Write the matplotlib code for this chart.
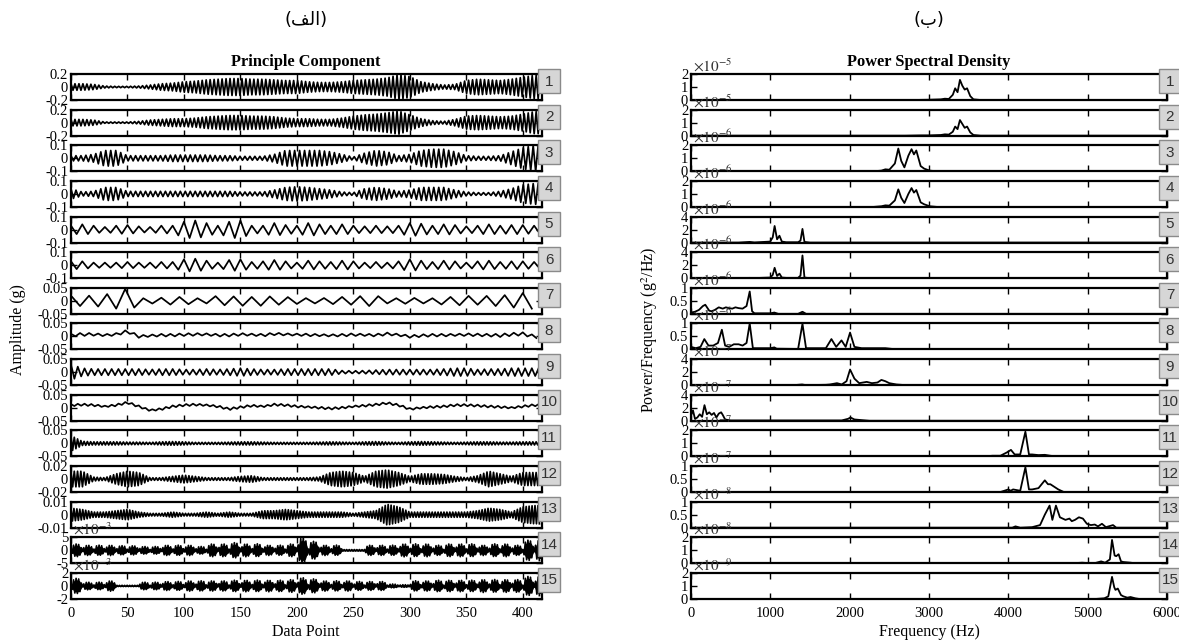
import numpy as np
import matplotlib
matplotlib.use("Agg")
import matplotlib.pyplot as plt
from matplotlib.patches import Rectangle

plt.rcParams['font.family'] = ['Liberation Serif', 'DejaVu Serif']
plt.rcParams['mathtext.fontset'] = 'stix'

# ---------------- data ----------------
n_points = 415
env_step_x = list(range(0, 420, 10))          # envelope sample positions 0..410

pc_lim = [0.2, 0.2, 0.1, 0.1, 0.1, 0.1, 0.05, 0.05, 0.05, 0.05, 0.05, 0.02, 0.01, 5, 2]
pc_ticklabels = [["-0.2", "0", "0.2"], ["-0.2", "0", "0.2"], ["-0.1", "0", "0.1"], ["-0.1", "0", "0.1"],
                 ["-0.1", "0", "0.1"], ["-0.1", "0", "0.1"], ["-0.05", "0", "0.05"], ["-0.05", "0", "0.05"],
                 ["-0.05", "0", "0.05"], ["-0.05", "0", "0.05"], ["-0.05", "0", "0.05"], ["-0.02", "0", "0.02"],
                 ["-0.01", "0", "0.01"], ["-5", "0", "5"], ["-2", "0", "2"]]
pc_exponent = [None] * 13 + [-3, -3]
# half period (data points) of the dominant oscillation of each component
pc_half_period = [1.76, 1.76, 2.2, 2.2, 5.0, 5.0, 8.0, 4.0, 3.0, 3.0, 1.45, 1.45, 1.3, 1.13, 1.13]

pc1_env = [0.05, 0.05, 0.04, 0.015, 0.01, 0.01, 0.015, 0.03, 0.05, 0.06, 0.08, 0.09, 0.11, 0.12, 0.13, 0.13, 0.12,
           0.12, 0.11, 0.10, 0.10, 0.08, 0.07, 0.07, 0.08, 0.10, 0.11, 0.12, 0.14, 0.19, 0.16, 0.08, 0.05, 0.03, 0.04,
           0.10, 0.12, 0.11, 0.10, 0.12, 0.15, 0.18]
pc2_env = [0.05, 0.05, 0.04, 0.01, 0.01, 0.01, 0.02, 0.04, 0.05, 0.06, 0.06, 0.07, 0.09, 0.10, 0.11, 0.11, 0.10,
           0.10, 0.09, 0.07, 0.06, 0.06, 0.05, 0.05, 0.07, 0.10, 0.12, 0.13, 0.15, 0.18, 0.12, 0.06, 0.03, 0.02, 0.05,
           0.10, 0.11, 0.10, 0.09, 0.10, 0.13, 0.17]
pc3_env = [0.02, 0.02, 0.03, 0.06, 0.06, 0.02, 0.02, 0.02, 0.02, 0.025, 0.025, 0.025, 0.025, 0.02, 0.02, 0.015,
           0.015, 0.015, 0.03, 0.06, 0.06, 0.06, 0.06, 0.05, 0.03, 0.01, 0.04, 0.06, 0.05, 0.02, 0.03, 0.06, 0.07,
           0.07, 0.05, 0.02, 0.015, 0.015, 0.02, 0.05, 0.08, 0.10]
pc4_env = [0.04, 0.015, 0.02, 0.05, 0.05, 0.02, 0.02, 0.02, 0.02, 0.02, 0.02, 0.02, 0.02, 0.02, 0.02, 0.015, 0.015,
           0.015, 0.03, 0.05, 0.055, 0.05, 0.04, 0.03, 0.015, 0.01, 0.04, 0.05, 0.04, 0.02, 0.03, 0.05, 0.05, 0.05,
           0.03, 0.015, 0.01, 0.01, 0.02, 0.04, 0.07, 0.08]
pc5_env = [0.03, 0.04, 0.03, 0.02, 0.03, 0.035, 0.025, 0.02, 0.03, 0.03, 0.06, 0.07, 0.05, 0.03, 0.06, 0.07, 0.03,
           0.03, 0.05, 0.035, 0.03, 0.05, 0.04, 0.03, 0.04, 0.03, 0.025, 0.03, 0.025, 0.03, 0.05, 0.045, 0.03, 0.04,
           0.035, 0.025, 0.03, 0.04, 0.03, 0.035, 0.035, 0.03]
pc6_env = [0.03, 0.03, 0.02, 0.02, 0.02, 0.025, 0.02, 0.02, 0.025, 0.025, 0.045, 0.05, 0.035, 0.02, 0.04, 0.045,
           0.025, 0.03, 0.04, 0.03, 0.02, 0.035, 0.03, 0.025, 0.035, 0.03, 0.02, 0.025, 0.02, 0.03, 0.045, 0.035,
           0.025, 0.035, 0.03, 0.02, 0.03, 0.035, 0.025, 0.03, 0.03, 0.025]
pc7_env = [0.02, 0.02, 0.02, 0.025, 0.03, 0.05, 0.01, 0.01, 0.012, 0.015, 0.015, 0.01, 0.01, 0.02, 0.015, 0.02,
           0.015, 0.02, 0.015, 0.015, 0.012, 0.01, 0.01, 0.012, 0.015, 0.015, 0.02, 0.02, 0.01, 0.01, 0.012, 0.01,
           0.01, 0.015, 0.015, 0.02, 0.015, 0.02, 0.02, 0.025, 0.03, 0.03]
pc8_base = [0.005, 0.008, 0.008, 0.005, 0.008, 0.02, 0.0, 0.003, 0.005, 0.005, 0.007, 0.008, 0.008, 0.005, 0.005,
            0.008, 0.007, 0.005, 0.01, 0.008, 0.007, 0.006, 0.005, 0.004, 0.005, 0.007, 0.006, 0.005, 0.01, 0.006,
            0.0, 0.003, 0.005, 0.005, 0.006, 0.007, 0.006, 0.005, 0.004, 0.008, 0.01, 0.0]
pc8_env = [0.005, 0.006, 0.005, 0.004, 0.005, 0.006, 0.005, 0.004, 0.005, 0.005, 0.005, 0.005, 0.004, 0.005, 0.005,
           0.005, 0.004, 0.005, 0.005, 0.004, 0.004, 0.005, 0.004, 0.004, 0.005, 0.005, 0.004, 0.005, 0.005, 0.004,
           0.005, 0.005, 0.005, 0.005, 0.004, 0.005, 0.005, 0.005, 0.006, 0.006, 0.006, 0.006]
pc9_env = [0.03, 0.015, 0.012, 0.012, 0.012, 0.012, 0.012, 0.01, 0.012, 0.012, 0.01, 0.01, 0.012, 0.01, 0.012,
           0.015, 0.012, 0.01, 0.01, 0.012, 0.012, 0.012, 0.012, 0.012, 0.006, 0.005, 0.006, 0.008, 0.01, 0.01,
           0.01, 0.01, 0.01, 0.012, 0.015, 0.015, 0.01, 0.012, 0.012, 0.015, 0.015, 0.015]
pc10_base = [0.01, 0.012, 0.01, 0.005, 0.01, 0.02, 0.005, -0.01, -0.005, 0.005, 0.01, 0.012, 0.01, 0.005, -0.005,
             0.002, 0.008, 0.005, 0.012, 0.01, 0.005, 0.003, 0.0, -0.003, 0.0, 0.005, 0.008, 0.012, 0.018, 0.01,
             -0.005, 0.0, 0.003, 0.005, 0.01, 0.01, 0.008, 0.005, 0.003, 0.0, 0.005, 0.01]
pc10_env = [0.004, 0.004, 0.004, 0.003, 0.004, 0.004, 0.004, 0.003, 0.004, 0.004, 0.004, 0.004, 0.003, 0.004,
            0.004, 0.004, 0.004, 0.003, 0.004, 0.004, 0.004, 0.003, 0.004, 0.004, 0.004, 0.003, 0.004, 0.004, 0.004,
            0.004, 0.004, 0.003, 0.004, 0.004, 0.004, 0.004, 0.004, 0.004, 0.004, 0.003, 0.004, 0.004]
pc11_env = [0.03, 0.008, 0.006, 0.006, 0.006, 0.005, 0.005, 0.004, 0.006, 0.007, 0.006, 0.004, 0.004, 0.004,
            0.005, 0.006, 0.006, 0.005, 0.004, 0.004, 0.004, 0.004, 0.005, 0.006, 0.005, 0.004, 0.006, 0.007, 0.005,
            0.004, 0.006, 0.007, 0.006, 0.005, 0.004, 0.005, 0.006, 0.006, 0.005, 0.005, 0.006, 0.006]
pc12_env = [0.012, 0.012, 0.003, 0.002, 0.008, 0.012, 0.01, 0.002, 0.002, 0.004, 0.006, 0.004, 0.002, 0.002,
            0.002, 0.004, 0.005, 0.002, 0.002, 0.002, 0.002, 0.002, 0.003, 0.01, 0.012, 0.01, 0.004, 0.012, 0.014,
            0.01, 0.004, 0.008, 0.008, 0.007, 0.004, 0.002, 0.005, 0.012, 0.008, 0.004, 0.01, 0.01]
pc13_env = [0.005, 0.004, 0.002, 0.002, 0.003, 0.004, 0.002, 0.001, 0.001, 0.002, 0.001, 0.001, 0.002, 0.001,
            0.002, 0.001, 0.001, 0.003, 0.003, 0.004, 0.003, 0.002, 0.002, 0.002, 0.002, 0.001, 0.002, 0.003, 0.008,
            0.006, 0.002, 0.002, 0.002, 0.002, 0.002, 0.002, 0.003, 0.005, 0.004, 0.002, 0.006, 0.007]
# components 14 and 15 (x 1e-3): bead amplitudes at 5, 15, ..., 415 and the level between beads
pc14_beads = [2.5, 2.0, 2.0, 2.0, 1.8, 1.8, 1.5, 1.5, 2.0, 2.0, 2.0, 1.5, 2.5, 2.5, 3.0, 2.5, 2.5, 2.0, 2.0, 2.5,
              5.0, 3.5, 2.0, 2.0, 0.3, 0.3, 2.0, 2.0, 2.0, 2.5, 2.5, 2.5, 2.0, 2.5, 2.5, 2.5, 2.0, 2.5, 2.5, 2.0,
              4.0, 4.0]
pc14_gap = 0.3
pc15_beads = [1.2, 0.6, 0.6, 0.8, 0.1, 0.1, 0.6, 0.6, 0.7, 0.7, 0.8, 0.8, 0.8, 0.8, 0.9, 0.9, 0.9, 0.9, 0.9, 1.0,
              1.3, 1.1, 0.8, 0.8, 0.8, 0.7, 0.7, 0.7, 0.3, 0.2, 0.8, 0.8, 0.9, 0.9, 0.9, 0.9, 1.0, 1.0, 1.0, 1.0,
              1.5, 1.5]
pc15_gap = 0.1
bead_shoulder = 0.85   # relative bead height 2.5 points either side of a bead centre

# ---------------- PSD data (in units of 10^exp) ----------------
psd_top = [2, 2, 2, 2, 4, 4, 1, 1, 4, 4, 2, 1, 1, 2, 2]
psd_ticklabels = [["0", "1", "2"], ["0", "1", "2"], ["0", "1", "2"], ["0", "1", "2"], ["0", "2", "4"],
                  ["0", "2", "4"], ["0", "0.5", "1"], ["0", "0.5", "1"], ["0", "2", "4"], ["0", "2", "4"],
                  ["0", "1", "2"], ["0", "0.5", "1"], ["0", "0.5", "1"], ["0", "1", "2"], ["0", "1", "2"]]
psd_exponent = [-5, -5, -6, -6, -6, -6, -6, -6, -7, -7, -7, -7, -8, -8, -9]

psd1_f = [0, 2800, 3000, 3150, 3200, 3250, 3300, 3330, 3360, 3390, 3420, 3450, 3480, 3520, 3560, 3650, 6000]
psd1_v = [0, 0, 0.02, 0.05, 0.1, 0.08, 0.4, 0.9, 0.6, 1.55, 1.1, 0.8, 0.9, 0.3, 0.05, 0, 0]
psd2_f = [0, 2700, 2900, 3000, 3150, 3200, 3250, 3300, 3330, 3360, 3390, 3420, 3450, 3480, 3520, 3560, 3650, 6000]
psd2_v = [0, 0, 0.02, 0.02, 0.05, 0.1, 0.08, 0.3, 0.7, 0.5, 1.2, 0.9, 0.6, 0.7, 0.25, 0.05, 0, 0]
psd3_f = [0, 2300, 2400, 2450, 2500, 2570, 2613, 2650, 2690, 2740, 2780, 2810, 2840, 2895, 2940, 3010, 3100, 6000]
psd3_v = [0, 0, 0.05, 0.15, 0.12, 0.6, 1.75, 0.8, 0.3, 1.2, 1.7, 1.3, 1.6, 0.4, 0.2, 0.05, 0, 0]
psd4_f = [0, 2300, 2400, 2450, 2500, 2570, 2613, 2650, 2690, 2740, 2780, 2810, 2840, 2895, 2940, 3010, 3100, 6000]
psd4_v = [0, 0, 0.05, 0.12, 0.1, 0.5, 1.35, 0.7, 0.3, 1.0, 1.45, 1.1, 1.3, 0.35, 0.2, 0.05, 0, 0]
psd5_f = [0, 600, 740, 800, 998, 1030, 1054, 1085, 1115, 1145, 1200, 1350, 1380, 1405, 1430, 1500, 6000]
psd5_v = [0, 0, 0.1, 0.02, 0.15, 0.8, 2.55, 0.5, 1.05, 0.15, 0.05, 0.05, 0.3, 2.1, 0.1, 0, 0]
psd6_f = [0, 600, 740, 800, 998, 1030, 1054, 1085, 1115, 1145, 1200, 1350, 1380, 1405, 1430, 1500, 6000]
psd6_v = [0, 0, 0.05, 0.02, 0.1, 0.5, 1.6, 0.35, 0.7, 0.1, 0.05, 0.05, 0.4, 3.5, 0.1, 0, 0]
psd7_f = [0, 50, 100, 150, 180, 230, 260, 300, 350, 400, 440, 480, 520, 560, 600, 650, 700, 740, 770, 800, 1000,
          1050, 1100, 1350, 1405, 1450, 6000]
psd7_v = [0.05, 0.08, 0.15, 0.3, 0.35, 0.12, 0.1, 0.15, 0.25, 0.2, 0.25, 0.22, 0.2, 0.25, 0.22, 0.2, 0.3, 0.86,
          0.1, 0.02, 0.02, 0.05, 0.0, 0.0, 0.08, 0.0, 0]
psd8_f = [0, 60, 120, 168, 220, 280, 340, 389, 430, 480, 540, 600, 650, 700, 740, 780, 1000, 1050, 1080, 1350,
          1405, 1450, 1600, 1700, 1770, 1830, 1897, 1950, 2005, 2060, 2150, 2300, 2450, 2600, 6000]
psd8_v = [0.1, 0.05, 0.1, 0.4, 0.15, 0.15, 0.25, 0.76, 0.15, 0.1, 0.2, 0.2, 0.15, 0.25, 1.0, 0.05, 0.05, 0.08, 0.03,
          0.02, 0.99, 0.05, 0.05, 0.05, 0.4, 0.1, 0.35, 0.1, 0.65, 0.1, 0.05, 0.05, 0.05, 0.0, 0]
psd9_f = [0, 1300, 1400, 1450, 1700, 1750, 1840, 1900, 1960, 2005, 2060, 2120, 2215, 2280, 2350, 2400, 2450, 2500,
          2590, 2700, 6000]
psd9_v = [0, 0, 0.1, 0, 0.05, 0.1, 0.3, 0.1, 0.6, 2.4, 1.0, 0.3, 0.5, 0.3, 0.4, 0.8, 0.6, 0.3, 0.1, 0, 0]
psd10_f = [0, 25, 50, 80, 110, 140, 170, 200, 230, 260, 290, 320, 350, 380, 400, 430, 500, 1900, 1980, 2010,
           2060, 2150, 2250, 6000]
psd10_v = [0.8, 1.6, 0.3, 0.5, 1.0, 0.6, 2.4, 1.0, 1.3, 0.9, 1.2, 0.5, 1.1, 1.3, 0.9, 0.2, 0.05, 0.05, 0.3, 0.5,
           0.2, 0.1, 0, 0]
psd11_f = [0, 3700, 3800, 3900, 3980, 4033, 4080, 4150, 4215, 4260, 4300, 4380, 4460, 4530, 4600, 6000]
psd11_v = [0, 0, 0.05, 0.05, 0.3, 0.5, 0.15, 0.15, 1.9, 0.15, 0.15, 0.1, 0.12, 0.05, 0, 0]
psd12_f = [0, 3900, 4000, 4030, 4060, 4150, 4215, 4260, 4300, 4380, 4460, 4500, 4530, 4580, 4630, 4700, 6000]
psd12_v = [0, 0, 0.1, 0.05, 0.1, 0.05, 0.95, 0.1, 0.1, 0.15, 0.45, 0.3, 0.3, 0.2, 0.1, 0, 0]
psd13_f = [0, 4050, 4090, 4150, 4300, 4400, 4460, 4520, 4555, 4600, 4650, 4720, 4770, 4800, 4840, 4890, 4940,
           4990, 5040, 5090, 5130, 5180, 5230, 5320, 5360, 6000]
psd13_v = [0, 0, 0.05, 0.0, 0.02, 0.1, 0.5, 0.85, 0.3, 0.85, 0.4, 0.3, 0.35, 0.25, 0.3, 0.4, 0.35, 0.15, 0.1, 0.12,
           0.05, 0.15, 0.02, 0.1, 0, 0]
psd14_f = [0, 4800, 4930, 5000, 5100, 5170, 5220, 5280, 5307, 5340, 5360, 5390, 5420, 5450, 5540, 5600, 6000]
psd14_v = [0, 0, 0.05, 0.02, 0.03, 0.15, 0.05, 0.3, 1.8, 0.6, 0.55, 0.7, 0.15, 0.1, 0.05, 0, 0]
psd15_f = [0, 5100, 5210, 5260, 5307, 5335, 5350, 5380, 5420, 5450, 5500, 5540, 5600, 5650, 6000]
psd15_v = [0, 0, 0.05, 0.2, 1.7, 0.9, 0.7, 0.8, 0.3, 0.2, 0.1, 0.15, 0.05, 0, 0]

pc_x_ticks = [0, 50, 100, 150, 200, 250, 300, 350, 400]
psd_x_ticks = [0, 1000, 2000, 3000, 4000, 5000, 6000]

# ---------------- build the component traces ----------------
def zigzag(env_x, env, half_period, base=None):
    """Trace swinging between +env and -env (around base) at the read half period."""
    xs = np.arange(0, n_points + 0.5, half_period)
    amp = np.interp(xs, env_x, env)
    sign = np.where(np.arange(len(xs)) % 2 == 0, 1.0, -1.0)
    ys = sign * amp
    if base is not None:
        ys = ys + np.interp(xs, env_x, base)
    return xs, ys


def bead_env(beads, gap):
    # positions every 2.5 points: gap, shoulder, bead, shoulder, gap, ...
    ex = np.arange(0, 420, 2.5)
    ev = np.full(len(ex), gap)
    b = np.asarray(beads, dtype=float)
    ev[2::4] = b[:len(ev[2::4])]
    ev[1::4] = bead_shoulder * b[:len(ev[1::4])]
    ev[3::4] = bead_shoulder * b[:len(ev[3::4])]
    return ex, ev


pc_env = [pc1_env, pc2_env, pc3_env, pc4_env, pc5_env, pc6_env, pc7_env, pc8_env, pc9_env, pc10_env,
          pc11_env, pc12_env, pc13_env]
pc_base = [None] * 7 + [pc8_base, None, pc10_base] + [None] * 3
traces = []
for k in range(13):
    traces.append(zigzag(env_step_x, pc_env[k], pc_half_period[k], pc_base[k]))
ex14, ev14 = bead_env(pc14_beads, pc14_gap)
traces.append(zigzag(ex14, ev14, pc_half_period[13]))
ex15, ev15 = bead_env(pc15_beads, pc15_gap)
traces.append(zigzag(ex15, ev15, pc_half_period[14]))
bead_envs = {13: (ex14, ev14), 14: (ex15, ev15)}

psd_f = [psd1_f, psd2_f, psd3_f, psd4_f, psd5_f, psd6_f, psd7_f, psd8_f, psd9_f, psd10_f, psd11_f, psd12_f,
         psd13_f, psd14_f, psd15_f]
psd_v = [psd1_v, psd2_v, psd3_v, psd4_v, psd5_v, psd6_v, psd7_v, psd8_v, psd9_v, psd10_v, psd11_v, psd12_v,
         psd13_v, psd14_v, psd15_v]

# ---------------- figure ----------------
W, H = 1179, 641
fig = plt.figure(figsize=(W / 100, H / 100), dpi=100)

ROW_TOP0, ROW_PITCH, ROW_H = 74, 35.64, 26
L_X0, L_X1 = 71, 542
R_X0, R_X1 = 691, 1167


def rect(x0, x1, i):
    top = ROW_TOP0 + i * ROW_PITCH
    return [x0 / W, 1 - (top + ROW_H) / H, (x1 - x0) / W, ROW_H / H]


def style(ax, last):
    for s in ax.spines.values():
        s.set_linewidth(1.6)
    ax.tick_params(direction='in', length=4, width=1.0, top=True, right=True, labelsize=10.5, pad=2,
                   colors='black')
    ax.tick_params(axis='x', pad=6)
    if not last:
        ax.tick_params(labelbottom=False)


def number_box(x_px, i, label):
    top = ROW_TOP0 + i * ROW_PITCH - 5
    r = Rectangle((x_px / W, 1 - (top + 24) / H), 22 / W, 24 / H, transform=fig.transFigure,
                  facecolor='#d6d6d6', edgecolor='#8a8a8a', linewidth=1.0, zorder=10)
    fig.patches.append(r)
    fig.text((x_px + 11) / W, 1 - (top + 12.5) / H, label, ha='center', va='center', fontsize=11,
             family=['Liberation Sans', 'DejaVu Sans'], color='#333333', zorder=11)


for i in range(15):
    last = i == 14
    # ---- left: principal components ----
    ax = fig.add_axes(rect(L_X0, L_X1, i))
    xs, ys = traces[i]
    if i in bead_envs:
        bx, bv = bead_envs[i]
        ax.fill_between(bx, -bv * 0.8, bv * 0.8, color='black', lw=0)
    ax.plot(xs, ys, color='black', lw=1.25)
    lim = pc_lim[i]
    ax.set_xlim(0, 417)
    ax.set_ylim(-lim, lim)
    ax.set_yticks([-lim, 0, lim])
    ax.set_yticklabels(pc_ticklabels[i])
    ax.set_xticks(pc_x_ticks)
    ax.set_xticklabels([str(t) for t in pc_x_ticks])
    style(ax, last)
    if pc_exponent[i] is not None:
        ax.text(0.005, 0.98, r"$\times10^{%d}$" % pc_exponent[i], transform=ax.transAxes, ha='left',
                va='bottom', fontsize=11, color='#333333')
    number_box(L_X1 - 4, i, str(i + 1))

    # ---- right: PSD ----
    ax2 = fig.add_axes(rect(R_X0, R_X1, i))
    ax2.plot(psd_f[i], psd_v[i], color='black', lw=1.3)
    top = psd_top[i]
    ax2.set_xlim(0, 6000)
    ax2.set_ylim(0, top)
    ax2.set_yticks([0, top / 2, top])
    ax2.set_yticklabels(psd_ticklabels[i])
    ax2.set_xticks(psd_x_ticks)
    ax2.set_xticklabels([str(t) for t in psd_x_ticks])
    style(ax2, last)
    ax2.text(0.005, 0.98, r"$\times10^{%d}$" % psd_exponent[i], transform=ax2.transAxes, ha='left',
             va='bottom', fontsize=11, color='#333333')
    number_box(R_X1 - 8, i, str(i + 1))

# titles and labels
fig.text(306 / W, 1 - 62 / H, "Principle Component", ha='center', va='center', fontsize=11.8,
         fontweight='bold')
fig.text(929 / W, 1 - 62 / H, "Power Spectral Density", ha='center', va='center', fontsize=11.8,
         fontweight='bold')
fig.text(306 / W, 1 - 632 / H, "Data Point", ha='center', va='center', fontsize=11.5)
fig.text(929 / W, 1 - 632 / H, "Frequency (Hz)", ha='center', va='center', fontsize=11.5)
fig.text(18 / W, 1 - 330 / H, "Amplitude (g)", ha='center', va='center', rotation=90, fontsize=11.5)
fig.text(650 / W, 1 - 330 / H, r"Power/Frequency (g$^2$/Hz)", ha='center', va='center', rotation=90,
         fontsize=11.5)

# panel captions (Persian, pre-shaped visual order)
fig.text(306 / W, 1 - 20 / H, "(\uFED2\uFEDF\uFE8D)", ha='center', va='center', fontsize=13,
         family=['DejaVu Sans'])
fig.text(929 / W, 1 - 20 / H, "(\uFE8F)", ha='center', va='center', fontsize=13, family=['DejaVu Sans'])

fig.savefig("out.png", dpi=100)
